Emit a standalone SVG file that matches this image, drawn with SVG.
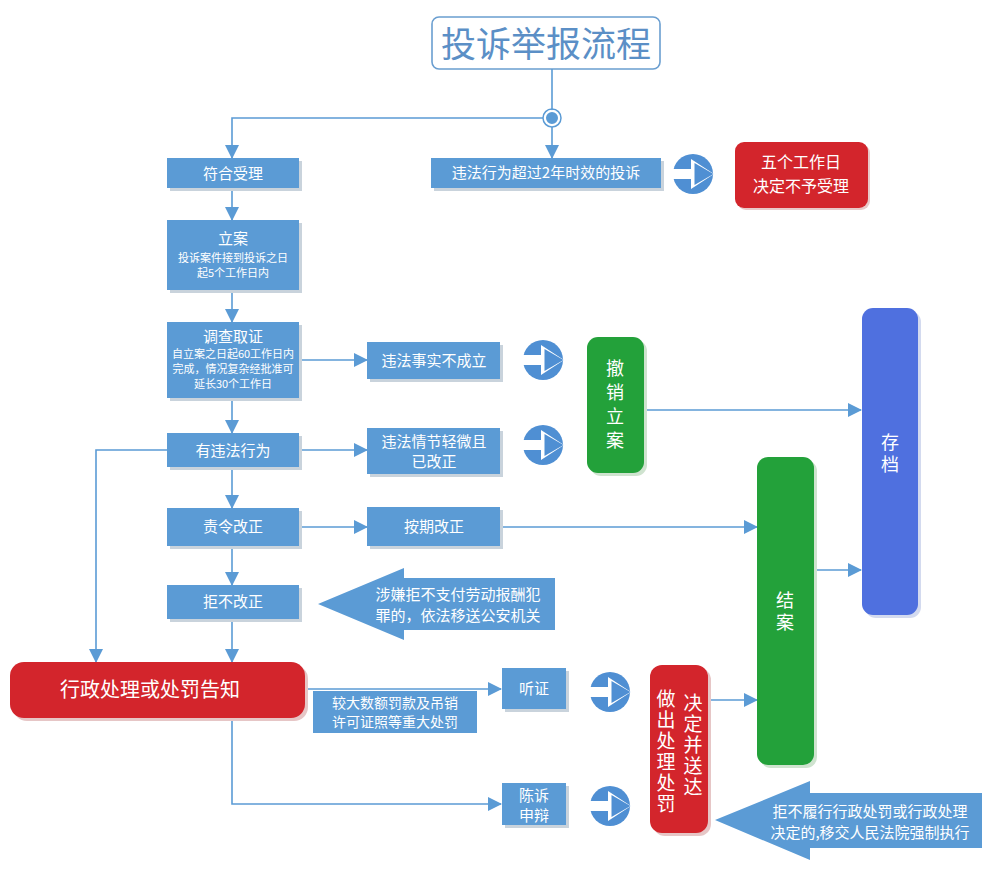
<svg xmlns="http://www.w3.org/2000/svg" width="992" height="875" viewBox="0 0 992 875">
<defs>
<style>
text{font-family:"Noto Sans CJK SC","Liberation Sans",sans-serif;fill:#fff;text-anchor:middle}
.bx{fill:#5b9bd5}
.sh{fill:#c9d3dc}
.red{fill:#d3252c}
.grn{fill:#23a13a}
.blu{fill:#4f70df}
.ln{fill:none;stroke:#5b9bd5;stroke-width:1.6}
.t15{font-size:15px}
.t14{font-size:14px}
.t11{font-size:11px}
.ico{fill:#4f8fd3}
.vt{writing-mode:vertical-rl;font-size:18px}
</style>
<marker id="ah" markerUnits="userSpaceOnUse" markerWidth="14" markerHeight="14" viewBox="0 0 14 14" refX="13" refY="7" orient="auto">
<path d="M0,0 L14,7 L0,14 z" fill="#5b9bd5"/>
</marker>
<g id="icon">
<circle r="20" class="ico"/>
<path d="M-21,-5 H-2 V-15 L21,0 L-2,15 V5 H-21 z" fill="#fff"/>
<path d="M1.5,-11 L20.5,0 L1.5,11 z" class="ico"/>
</g>
</defs>
<rect width="992" height="875" fill="#fff"/>

<g id="title">
<rect x="432" y="17" width="228" height="52" rx="7" fill="#fff" stroke="#6a9ed0" stroke-width="1.6"/>
<text x="546" y="57" style="font-size:35px;fill:#5b8fc6">投诉举报流程</text>
</g>

<g id="connectors">
<line class="ln" x1="552" y1="69" x2="552" y2="111"/>
<circle cx="552" cy="118" r="7" fill="#5b9bd5" stroke="#fff" stroke-width="2"/>
<circle cx="552" cy="118" r="9" fill="none" stroke="#5b9bd5" stroke-width="1.5"/>
<path class="ln" d="M552,127 V158" marker-end="url(#ah)"/>
<path class="ln" d="M543,118 H232 V158" marker-end="url(#ah)"/>
<path class="ln" d="M232,188 V220" marker-end="url(#ah)"/>
<path class="ln" d="M232,290 V322" marker-end="url(#ah)"/>
<path class="ln" d="M232,398 V433" marker-end="url(#ah)"/>
<path class="ln" d="M232,467 V508" marker-end="url(#ah)"/>
<path class="ln" d="M232,546 V585" marker-end="url(#ah)"/>
<path class="ln" d="M232,619 V662" marker-end="url(#ah)"/>
<path class="ln" d="M167,450 H96 V662" marker-end="url(#ah)"/>
<path class="ln" d="M299,360 H367" marker-end="url(#ah)"/>
<path class="ln" d="M299,450 H367" marker-end="url(#ah)"/>
<path class="ln" d="M299,527 H367" marker-end="url(#ah)"/>
<path class="ln" d="M500,527 H757" marker-end="url(#ah)"/>
<path class="ln" d="M644,410 H861" marker-end="url(#ah)"/>
<path class="ln" d="M814,570 H861" marker-end="url(#ah)"/>
<path class="ln" d="M305,689 H501" marker-end="url(#ah)"/>
<path class="ln" d="M232,718 V804 H501" marker-end="url(#ah)"/>
<path class="ln" d="M708,700 H757" marker-end="url(#ah)"/>
</g>

<g id="n-overdue">
<rect class="sh" x="434" y="161" width="230" height="30"/>
<rect class="bx" x="431" y="158" width="230" height="30"/>
<text class="t15" x="546" y="178">违法行为超过2年时效的投诉</text>
</g>
<use href="#icon" x="693" y="174"/>
<g id="n-reject">
<rect x="737" y="144" width="133" height="66" rx="9" fill="#e8c9c9"/>
<rect class="red" x="735" y="142" width="133" height="66" rx="9"/>
<text x="801" y="168" style="font-size:16px">五个工作日</text>
<text x="801" y="192" style="font-size:16px">决定不予受理</text>
</g>

<g id="n-accept">
<rect class="sh" x="170" y="161" width="132" height="30"/>
<rect class="bx" x="167" y="158" width="132" height="30"/>
<text class="t15" x="233" y="179">符合受理</text>
</g>
<g id="n-file">
<rect class="sh" x="170" y="223" width="132" height="70"/>
<rect class="bx" x="167" y="220" width="132" height="70"/>
<text class="t15" x="233" y="244">立案</text>
<text class="t11" x="233" y="262">投诉案件接到投诉之日</text>
<text class="t11" x="233" y="277">起5个工作日内</text>
</g>
<g id="n-investigate">
<rect class="sh" x="170" y="325" width="132" height="76"/>
<rect class="bx" x="167" y="322" width="132" height="76"/>
<text class="t15" x="233" y="342">调查取证</text>
<text class="t11" x="233" y="358">自立案之日起60工作日内</text>
<text class="t11" x="233" y="373">完成，情况复杂经批准可</text>
<text class="t11" x="233" y="388">延长30个工作日</text>
</g>
<g id="n-violation">
<rect class="sh" x="170" y="436" width="132" height="34"/>
<rect class="bx" x="167" y="433" width="132" height="34"/>
<text class="t15" x="233" y="456">有违法行为</text>
</g>
<g id="n-order">
<rect class="sh" x="170" y="511" width="132" height="38"/>
<rect class="bx" x="167" y="508" width="132" height="38"/>
<text class="t15" x="233" y="532">责令改正</text>
</g>
<g id="n-refuse">
<rect class="sh" x="170" y="588" width="132" height="34"/>
<rect class="bx" x="167" y="585" width="132" height="34"/>
<text class="t15" x="233" y="607">拒不改正</text>
</g>
<g id="n-notice">
<rect x="13" y="665" width="295" height="56" rx="14" fill="#e6c6c6"/>
<rect class="red" x="10" y="662" width="295" height="56" rx="14"/>
<text x="150" y="697" style="font-size:20px">行政处理或处罚告知</text>
</g>

<g id="n-nofact">
<rect class="sh" x="370" y="345" width="133" height="37"/>
<rect class="bx" x="367" y="342" width="133" height="37"/>
<text class="t15" x="434" y="366">违法事实不成立</text>
</g>
<g id="n-minor">
<rect class="sh" x="370" y="431" width="133" height="46"/>
<rect class="bx" x="367" y="428" width="133" height="46"/>
<text class="t15" x="434" y="447">违法情节轻微且</text>
<text class="t15" x="434" y="467">已改正</text>
</g>
<g id="n-ontime">
<rect class="sh" x="370" y="510" width="133" height="39"/>
<rect class="bx" x="367" y="507" width="133" height="39"/>
<text class="t15" x="434" y="532">按期改正</text>
</g>
<use href="#icon" x="543" y="360"/>
<use href="#icon" x="543" y="445"/>

<g id="n-revoke">
<rect x="590" y="340" width="57" height="136" rx="11" fill="#cfe3cf"/>
<rect class="grn" x="587" y="337" width="57" height="136" rx="11"/>
<text class="vt" x="615" y="407" style="letter-spacing:6px">撤销立案</text>
</g>
<g id="n-archive">
<rect x="865" y="311" width="56" height="307" rx="11" fill="#d3daef"/>
<rect class="blu" x="862" y="308" width="56" height="307" rx="11"/>
<text class="vt" x="890" y="455" style="letter-spacing:4px">存档</text>
</g>
<g id="n-close">
<rect x="760" y="460" width="57" height="308" rx="11" fill="#cfe3cf"/>
<rect class="grn" x="757" y="457" width="57" height="308" rx="11"/>
<text class="vt" x="785" y="613" style="letter-spacing:4px">结案</text>
</g>

<g id="n-police">
<path class="bx" d="M318,604 L404,568 V578 H555 V630 H404 V640 z"/>
<text class="t15" x="458" y="600">涉嫌拒不支付劳动报酬犯</text>
<text class="t15" x="458" y="621">罪的，依法移送公安机关</text>
</g>
<g id="n-major">
<rect class="bx" x="313" y="691" width="164" height="42"/>
<text class="t14" x="395" y="708">较大数额罚款及吊销</text>
<text class="t14" x="395" y="727">许可证照等重大处罚</text>
</g>
<g id="n-hearing">
<rect class="sh" x="505" y="671" width="64" height="41"/>
<rect class="bx" x="502" y="668" width="64" height="41"/>
<text class="t15" x="534" y="694">听证</text>
</g>
<g id="n-defense">
<rect class="sh" x="505" y="786" width="64" height="42"/>
<rect class="bx" x="502" y="783" width="64" height="42"/>
<text class="t15" x="534" y="801">陈诉</text>
<text class="t15" x="534" y="821">申辩</text>
</g>
<use href="#icon" x="610" y="692"/>
<use href="#icon" x="610" y="806"/>
<g id="n-decide">
<rect x="653" y="668" width="58" height="168" rx="12" fill="#e6c6c6"/>
<rect class="red" x="650" y="665" width="58" height="168" rx="12"/>
<text class="vt" x="666" y="752" style="font-size:19px;letter-spacing:2px">做出处理处罚</text>
<text class="vt" x="693" y="746" style="font-size:19px;letter-spacing:2px">决定并送达</text>
</g>
<g id="n-court">
<path class="bx" d="M715,820 L810,781 V793 H982 V848 H810 V860 z"/>
<text class="t15" x="870" y="817">拒不履行行政处罚或行政处理</text>
<text class="t15" x="870" y="838">决定的,移交人民法院强制执行</text>
</g>
</svg>
